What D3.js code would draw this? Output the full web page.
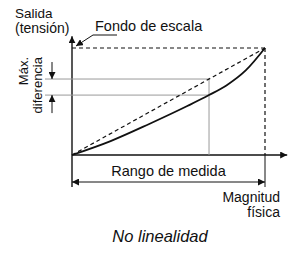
<!DOCTYPE html>
<html>
<head>
<meta charset="utf-8">
<script src="https://cdn.jsdelivr.net/npm/d3@7"></script>
<style>
  body { margin: 0; background: #fff; }
  text { font-family: "Liberation Sans", Arial, sans-serif; fill: #111; }
</style>
</head>
<body>
<div class="plot"></div>
<script>
// magnitud fisica (normalizada) y salida del sensor
const magnitud = [0, 0.2, 0.4, 0.6, 0.71, 0.8, 0.9, 1];
const salida   = [0, 0.13, 0.29, 0.46, 0.56, 0.65, 0.79, 1];
// recta ideal entre el origen y el fondo de escala
const ideal = [0, 1];
const maxDifIdx = 4;   // punto de maxima diferencia

const width = 298, height = 253;

const xScale = d3.scaleLinear().domain([0, 1]).range([72, 265]);
const yScale = d3.scaleLinear().domain([0, 1]).range([155, 48]);

const svg = d3.select('.plot')
              .append('svg')
              .attr('width', width)
              .attr('height', height);

const defs = svg.append('defs');
defs.append('marker')
    .attr('id', 'arrow')
    .attr('viewBox', '0 0 10 10')
    .attr('refX', 10).attr('refY', 5)
    .attr('markerWidth', 7).attr('markerHeight', 7)
    .attr('markerUnits', 'userSpaceOnUse')
    .attr('orient', 'auto-start-reverse')
    .append('path')
    .attr('d', 'M0,0 L10,5 L0,10 z')
    .attr('fill', '#111');

const line = (x1, y1, x2, y2) => svg.append('line')
    .attr('x1', x1).attr('y1', y1).attr('x2', x2).attr('y2', y2);

// ejes
line(xScale(0), yScale(0), xScale(1.115), yScale(0))
    .attr('stroke', '#111').attr('stroke-width', 1.4)
    .attr('marker-end', 'url(#arrow)');
line(xScale(0), 187, xScale(0), yScale(1.11))
    .attr('stroke', '#111').attr('stroke-width', 1.4)
    .attr('marker-end', 'url(#arrow)');

// fondo de escala
line(xScale(0), yScale(1), xScale(1), yScale(1))
    .attr('stroke', '#111').attr('stroke-width', 1.2).attr('stroke-dasharray', '4,3');
line(xScale(1), yScale(1), xScale(1), yScale(0))
    .attr('stroke', '#111').attr('stroke-width', 1.2).attr('stroke-dasharray', '4,3');
line(xScale(1), yScale(0), xScale(1), 187)
    .attr('stroke', '#111').attr('stroke-width', 1);

// lineas de referencia de la maxima diferencia
const xd = xScale(magnitud[maxDifIdx]);
const yIdeal = yScale(d3.interpolateNumber(ideal[0], ideal[1])(magnitud[maxDifIdx]));
const yReal = yScale(salida[maxDifIdx]);
[yIdeal, yReal].forEach(y => line(45, y, xd, y).attr('stroke', '#999').attr('stroke-width', 1));
line(xd, yIdeal, xd, yScale(0)).attr('stroke', '#999').attr('stroke-width', 1);

// flechas de maxima diferencia
line(52, yIdeal - 17, 52, yIdeal).attr('stroke', '#111').attr('stroke-width', 1)
    .attr('marker-end', 'url(#arrow)');
line(52, yReal + 18, 52, yReal).attr('stroke', '#111').attr('stroke-width', 1)
    .attr('marker-end', 'url(#arrow)');

// recta ideal (discontinua)
svg.append('path')
   .datum(ideal)
   .attr('d', d3.line().x((d, i) => xScale(i)).y(d => yScale(d)))
   .attr('fill', 'none').attr('stroke', '#111')
   .attr('stroke-width', 1.2).attr('stroke-dasharray', '4,3');

// curva real
svg.append('path')
   .datum(magnitud.map((m, i) => [m, salida[i]]))
   .attr('d', d3.line().x(d => xScale(d[0])).y(d => yScale(d[1])).curve(d3.curveMonotoneX))
   .attr('fill', 'none').attr('stroke', '#111').attr('stroke-width', 1.8);

// rango de medida
line(xScale(0), 182, xScale(1), 182)
    .attr('stroke', '#111').attr('stroke-width', 1)
    .attr('marker-start', 'url(#arrow)').attr('marker-end', 'url(#arrow)');

// indicador del fondo de escala
svg.append('polyline')
   .attr('points', '117,35 93,35 76,46')
   .attr('fill', 'none').attr('stroke', '#111').attr('stroke-width', 1)
   .attr('marker-end', 'url(#arrow)');

// textos
const txt = (x, y, s, size, anchor) => svg.append('text')
    .attr('x', x).attr('y', y)
    .attr('font-size', size)
    .attr('text-anchor', anchor || 'start')
    .text(s);

txt(15, 18, 'Salida', 13.5);
txt(15, 33, '(tensión)', 14);
txt(95, 31, 'Fondo de escala', 14.5);
txt(xScale(0.5), 176, 'Rango de medida', 14.5, 'middle');
txt(280, 202, 'Magnitud', 14, 'end');
txt(280, 217, 'física', 14, 'end');
txt(160, 242, 'No linealidad', 16.5, 'middle').attr('font-style', 'italic');

svg.append('text')
   .attr('transform', 'translate(28,57) rotate(-90)')
   .attr('text-anchor', 'end').attr('font-size', 13)
   .text('Máx.');
svg.append('text')
   .attr('transform', 'translate(42,57) rotate(-90)')
   .attr('text-anchor', 'end').attr('font-size', 13)
   .text('diferencia');
</script>
</body>
</html>
